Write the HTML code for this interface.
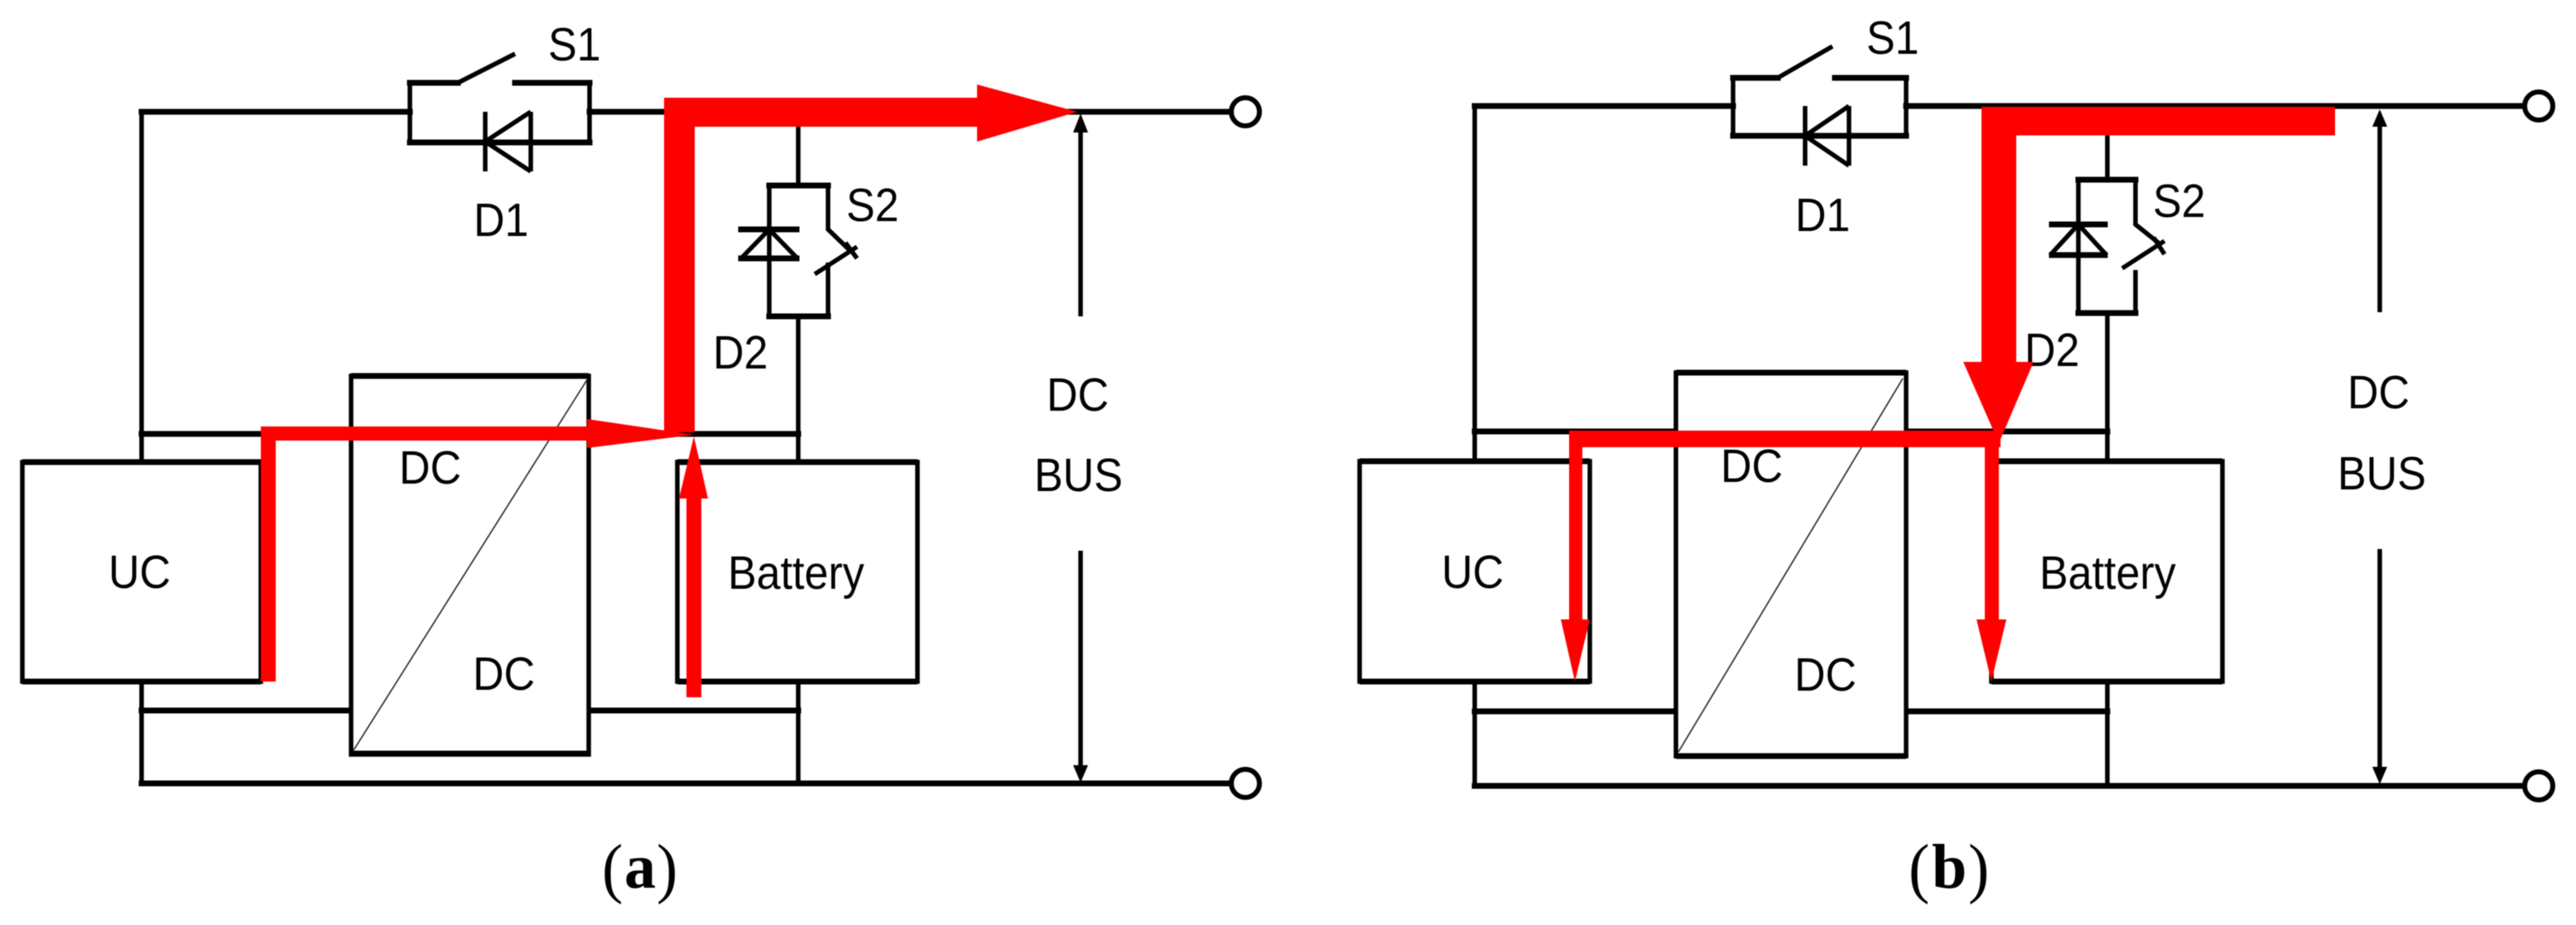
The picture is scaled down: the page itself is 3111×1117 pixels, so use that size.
<!DOCTYPE html>
<html>
<head>
<meta charset="utf-8">
<style>
html,body{margin:0;padding:0;background:#fff;}
svg{display:block;filter:blur(0.6px);}
.h{stroke:#000;stroke-width:7;fill:none;stroke-linecap:square;}
.v{stroke:#000;stroke-width:5.5;fill:none;stroke-linecap:butt;stroke-linejoin:miter;}
.b{fill:#fff;stroke:#000;stroke-width:5.5;}
.t{font-family:"Liberation Sans",Arial,sans-serif;font-size:52px;fill:#000;}
.c{font-family:"Liberation Serif","Times New Roman",serif;font-size:76px;fill:#000;}
.bd{font-weight:bold;}
.r{fill:#f00;stroke:none;}
</style>
</head>
<body>
<svg xmlns="http://www.w3.org/2000/svg" width="3111" height="1117" viewBox="0 0 3111 1117">
<rect width="3111" height="1117" fill="#fff"/>

<!-- Panel (a) -->
<g>
  <path class="v" d="M171 135V946M964 135V224M964 382V946"/>
  <path class="h" d="M171 135H495M712 135H1490M171 524H964M171 858H964M171 946H1490"/>
  <!-- S1 / D1 -->
  <path class="v" d="M495 135V100M712 135V100M495 135V172M712 135V172"/>
  <path class="h" d="M495 100H553M622 100H712M495 172H712"/>
  <path class="v" d="M553 100L622 65"/>
  <path class="v" d="M586 135V207M641 135V207M641 135L586 171L641 207"/>
  <!-- S2 / D2 -->
  <path class="v" d="M929 224V382M1000 224V277L1026 302M1000 317V382"/>
  <path class="h" d="M929 224H1000M929 382H1000"/>
  <path class="h" stroke-width="6" d="M895 277H962M895 312H962"/>
  <path class="v" d="M929 277L895 312M929 277L963 312"/>
  <path class="v" d="M984 331L1035 298M1021 293L1035 312"/>
  <!-- boxes -->
  <rect class="b" x="424" y="454" width="287" height="457"/>
  <path class="h" d="M424 454H711M424 910H711" style="stroke-linecap:butt"/>
  <line x1="427" y1="906" x2="710" y2="457" stroke="#222" stroke-width="1.6"/>
  <rect class="b" x="27" y="558" width="288" height="265"/>
  <rect class="b" x="818" y="558" width="290" height="265"/>
  <path class="h" d="M27 558H315M818 558H1108M27 823H315M818 823H1108" style="stroke-linecap:butt"/>
  <!-- terminals -->
  <ellipse cx="1504" cy="135" rx="17" ry="17" fill="#fff" stroke="#000" stroke-width="6"/>
  <ellipse cx="1504" cy="946" rx="17" ry="17" fill="#fff" stroke="#000" stroke-width="6"/>
  <!-- DC bus arrow -->
  <path class="v" d="M1305 150V382M1305 665V935"/>
  <path d="M1305 137L1314 160H1296Z" fill="#000"/>
  <path d="M1305 945L1314 924H1296Z" fill="#000"/>
  <!-- labels -->
  <text class="t" transform="translate(662 73) scale(1 1.08)">S1</text>
  <text class="t" transform="translate(572 285) scale(1 1.08)">D1</text>
  <text class="t" transform="translate(1022 267) scale(1 1.08)">S2</text>
  <text class="t" transform="translate(861 445) scale(1 1.08)">D2</text>
  <text class="t" transform="translate(1264 496) scale(1 1.08)">DC</text>
  <text class="t" transform="translate(1249 593) scale(1 1.08)">BUS</text>
  <text class="t" transform="translate(131 710) scale(1 1.08)">UC</text>
  <text class="t" transform="translate(879 711) scale(1 1.08)">Battery</text>
  <text class="t" transform="translate(482 584) scale(1 1.08)">DC</text>
  <text class="t" transform="translate(571 833) scale(1 1.08)">DC</text>
  <text class="c" transform="translate(727 1075) scale(1 1.06)">(</text>
  <text class="c bd" x="754" y="1072">a</text>
  <text class="c" transform="translate(793 1075) scale(1 1.06)">)</text>
  <!-- red -->
  <path class="r" d="M802 118H1180V102L1301 135L1180 171V153H839V522H802Z"/>
  <path class="r" d="M315 823V515H709V506L838 525L709 541V532H333V823Z"/>
  <path class="r" d="M838 527L855 602H847V842H829V602H820Z"/>
</g>

<!-- Panel (b) -->
<g>
  <path class="v" d="M1781 128V949M2545 128V217M2545 378V949"/>
  <path class="h" d="M1781 128H2093M2302 128H3052M1781 521H2545M1781 859H2545M1781 949H3052"/>
  <!-- S1 / D1 -->
  <path class="v" d="M2093 93V164M2302 93V164"/>
  <path class="h" d="M2093 94H2147M2216 94H2302M2093 164H2302"/>
  <path class="v" d="M2147 94L2213 56"/>
  <path class="v" d="M2180 128V200M2233 128V200M2233 128L2180 164L2233 200"/>
  <!-- S2 / D2 -->
  <path class="v" d="M2510 217V378M2579 217V271L2609 295M2579 326V378"/>
  <path class="h" d="M2510 217H2579M2510 378H2579"/>
  <path class="h" stroke-width="6" d="M2478 271H2542M2478 308H2542"/>
  <path class="v" d="M2510 271L2476 308M2510 271L2544 308"/>
  <path class="v" d="M2563 324L2614 291M2601 287L2614 307"/>
  <!-- boxes -->
  <rect class="b" x="2024" y="450" width="278" height="463"/>
  <path class="h" d="M2024 450H2302M2024 913H2302" style="stroke-linecap:butt"/>
  <line x1="2027" y1="908" x2="2298" y2="457" stroke="#222" stroke-width="1.6"/>
  <rect class="b" x="1642" y="557" width="278" height="266"/>
  <rect class="b" x="2405" y="557" width="279" height="266"/>
  <path class="h" d="M1642 557H1920M2405 557H2684M1642 823H1920M2405 823H2684" style="stroke-linecap:butt"/>
  <!-- terminals -->
  <ellipse cx="3066" cy="128" rx="17" ry="17" fill="#fff" stroke="#000" stroke-width="6"/>
  <ellipse cx="3066" cy="949" rx="17" ry="17" fill="#fff" stroke="#000" stroke-width="6"/>
  <!-- DC bus arrow -->
  <path class="v" d="M2874 145V377M2874 663V935"/>
  <path d="M2874 132L2883 153H2865Z" fill="#000"/>
  <path d="M2874 947L2883 926H2865Z" fill="#000"/>
  <!-- labels -->
  <text class="t" transform="translate(2254 65) scale(1 1.08)">S1</text>
  <text class="t" transform="translate(2168 279) scale(1 1.08)">D1</text>
  <text class="t" transform="translate(2600 262) scale(1 1.08)">S2</text>
  <text class="t" transform="translate(2445 442) scale(1 1.08)">D2</text>
  <text class="t" transform="translate(2835 493) scale(1 1.08)">DC</text>
  <text class="t" transform="translate(2823 591) scale(1 1.08)">BUS</text>
  <text class="t" transform="translate(1741 710) scale(1 1.08)">UC</text>
  <text class="t" transform="translate(2463 711) scale(1 1.08)">Battery</text>
  <text class="t" transform="translate(2078 582) scale(1 1.08)">DC</text>
  <text class="t" transform="translate(2167 834) scale(1 1.08)">DC</text>
  <text class="c" transform="translate(2305 1075) scale(1 1.06)">(</text>
  <text class="c bd" x="2333" y="1072">b</text>
  <text class="c" transform="translate(2377 1075) scale(1 1.06)">)</text>
  <!-- red -->
  <path class="r" d="M2393 129H2820V163.5H2435V437H2456L2414 535L2371 437H2393Z"/>
  <path class="r" d="M1895 520H2416V540H1911V748H1920L1902 823L1885 748H1895Z"/>
  <path class="r" d="M2397 530H2414V748H2423L2405 823L2387 748H2397Z"/>
</g>
</svg>
</body>
</html>
